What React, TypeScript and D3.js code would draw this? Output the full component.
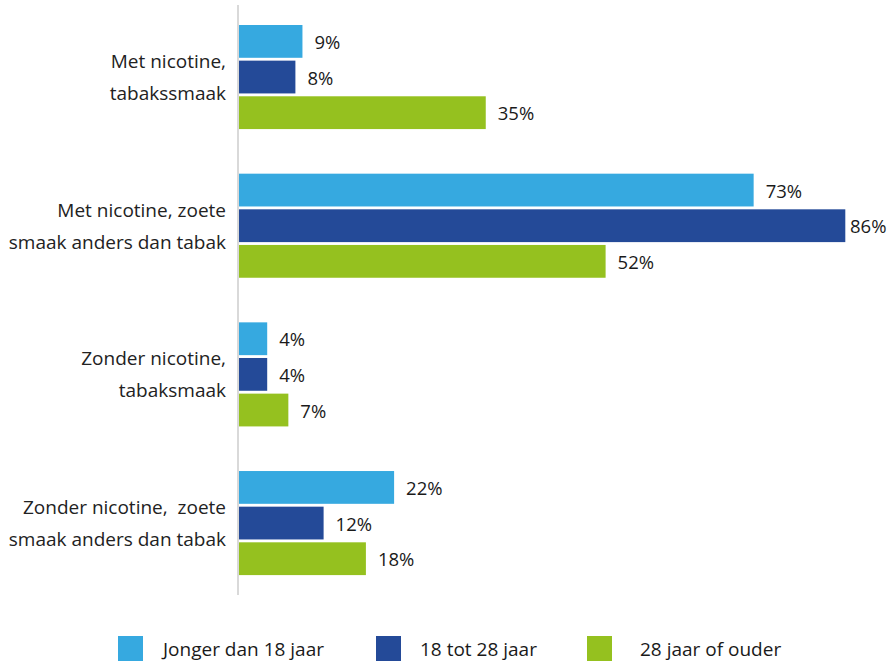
import React from "react";
import * as d3 from "d3";

const categories = [
  ["Met nicotine,", "tabakssmaak"],
  ["Met nicotine, zoete", "smaak anders dan tabak"],
  ["Zonder nicotine,", "tabaksmaak"],
  ["Zonder nicotine,  zoete", "smaak anders dan tabak"],
];
const seriesNames = ["Jonger dan 18 jaar", "18 tot 28 jaar", "28 jaar of ouder"];
const seriesColors = ["#36A9E0", "#244A98", "#95C11F"];
const youngValues = [9, 73, 4, 22];
const midValues = [8, 86, 4, 12];
const oldValues = [35, 52, 7, 18];
const seriesValues = [youngValues, midValues, oldValues];

const W = 893;
const H = 661;
const FONT = "'Open Sans', 'Noto Sans', sans-serif";

export default function App() {
  const catIdx = categories.map((_, i) => String(i));
  const y = d3.scaleBand().domain(catIdx).range([2.7, 597.4]).paddingInner(0.3).paddingOuter(0.15);
  const yInner = d3
    .scaleBand()
    .domain(seriesNames)
    .range([0, y.bandwidth()])
    .paddingInner(0.08);
  const x = d3.scaleLinear().domain([0, 100]).range([239, 944]);

  return (
    <svg width={W} height={H} style={{ position: "absolute", left: 0, top: 0, background: "#fff" }} fontFamily={FONT}>
      <line x1={238} x2={238} y1={5} y2={595} stroke="#d9d9d9" strokeWidth={2} />
      {categories.map((lines, ci) => {
        const y0 = y(String(ci))!;
        const cy = y0 + y.bandwidth() / 2;
        return (
          <g key={ci}>
            {lines.map((t, li) => (
              <text
                key={li}
                x={226}
                y={cy + (li - 0.5) * 32}
                textAnchor="end"
                dominantBaseline="central"
                fontSize={19}
                fill="#222"
                style={{ whiteSpace: "pre" }}
              >
                {t}
              </text>
            ))}
            {seriesNames.map((s, si) => {
              const v = seriesValues[si][ci];
              const by = y0 + yInner(s)!;
              const bw = x(v) - x(0);
              const lx = Math.min(x(v) + 12, W - 43);
              return (
                <g key={s}>
                  <rect x={x(0)} y={by} width={bw} height={yInner.bandwidth()} fill={seriesColors[si]} />
                  <text x={lx} y={by + yInner.bandwidth() / 2} dominantBaseline="central" fontSize={18.5} fill="#1a1a1a">
                    {v}%
                  </text>
                </g>
              );
            })}
          </g>
        );
      })}
      {seriesNames.map((s, si) => {
        const lxs = [118, 376, 587];
        const lx = lxs[si];
        return (
          <g key={s}>
            <rect x={lx} y={636} width={25} height={25} fill={seriesColors[si]} />
            <text x={lx + 45 + (si === 2 ? 8 : 0) - (si === 1 ? 1 : 0)} y={649} dominantBaseline="central" fontSize={19} fill="#1a1a1a">
              {s}
            </text>
          </g>
        );
      })}
    </svg>
  );
}
